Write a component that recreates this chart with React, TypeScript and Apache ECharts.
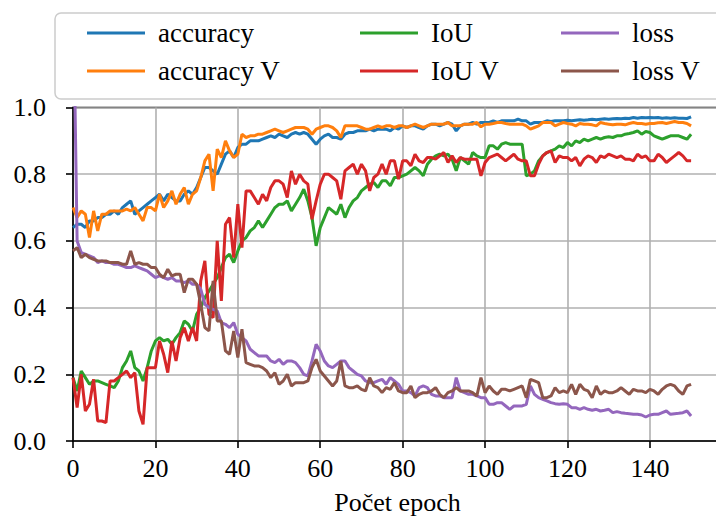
import React, { useEffect, useRef } from "react";
import * as echarts from "echarts";

const accuracy = [
  0.64,0.65,0.65,0.64,0.66,0.66,0.67,0.67,0.68,0.68,
  0.69,0.68,0.70,0.71,0.72,0.68,0.69,0.70,0.71,0.72,
  0.73,0.74,0.72,0.74,0.73,0.72,0.72,0.74,0.75,0.74,
  0.76,0.79,0.82,0.82,0.81,0.80,0.83,0.86,0.87,0.85,
  0.88,0.89,0.89,0.90,0.90,0.90,0.905,0.91,0.915,0.91,
  0.92,0.915,0.91,0.92,0.925,0.92,0.925,0.92,0.905,0.89,
  0.905,0.915,0.92,0.91,0.91,0.905,0.92,0.925,0.925,0.93,
  0.93,0.93,0.935,0.93,0.935,0.935,0.935,0.93,0.94,0.935,
  0.945,0.94,0.945,0.945,0.94,0.935,0.945,0.95,0.95,0.945,
  0.95,0.955,0.95,0.93,0.945,0.95,0.95,0.955,0.95,0.955,
  0.955,0.955,0.96,0.955,0.96,0.96,0.96,0.96,0.965,0.96,
  0.96,0.95,0.955,0.955,0.955,0.96,0.958,0.96,0.96,0.96,
  0.962,0.96,0.962,0.963,0.962,0.963,0.965,0.963,0.965,0.966,
  0.965,0.966,0.967,0.966,0.968,0.967,0.97,0.968,0.97,0.969,
  0.97,0.969,0.97,0.968,0.969,0.968,0.969,0.968,0.968,0.967,
  0.972,
];

const accuracyV = [
  0.70,0.67,0.69,0.68,0.61,0.69,0.63,0.68,0.68,0.69,
  0.69,0.69,0.69,0.695,0.69,0.70,0.68,0.66,0.70,0.70,
  0.69,0.74,0.70,0.72,0.75,0.71,0.74,0.76,0.71,0.74,
  0.75,0.79,0.84,0.86,0.75,0.875,0.85,0.90,0.87,0.85,
  0.86,0.92,0.91,0.915,0.915,0.92,0.92,0.925,0.93,0.935,
  0.93,0.925,0.93,0.935,0.94,0.94,0.94,0.935,0.92,0.935,
  0.94,0.945,0.945,0.94,0.93,0.91,0.945,0.945,0.945,0.945,
  0.94,0.935,0.935,0.94,0.945,0.94,0.945,0.945,0.94,0.945,
  0.945,0.94,0.945,0.95,0.945,0.94,0.945,0.95,0.95,0.95,
  0.95,0.955,0.945,0.945,0.945,0.95,0.95,0.95,0.955,0.942,
  0.95,0.95,0.952,0.955,0.955,0.952,0.95,0.95,0.95,0.95,
  0.945,0.935,0.94,0.945,0.955,0.955,0.955,0.945,0.95,0.955,
  0.952,0.95,0.945,0.952,0.95,0.95,0.948,0.945,0.955,0.952,
  0.95,0.948,0.95,0.95,0.948,0.952,0.955,0.952,0.952,0.95,
  0.952,0.952,0.954,0.955,0.952,0.955,0.958,0.955,0.955,0.952,
  0.945,
];

const iou = [
  0.19,0.15,0.21,0.19,0.17,0.18,0.18,0.175,0.17,0.165,
  0.16,0.18,0.22,0.24,0.27,0.22,0.21,0.18,0.22,0.27,
  0.30,0.31,0.30,0.305,0.29,0.31,0.325,0.36,0.35,0.33,
  0.38,0.40,0.43,0.45,0.47,0.49,0.52,0.55,0.56,0.535,
  0.57,0.60,0.61,0.63,0.64,0.66,0.64,0.66,0.68,0.70,
  0.71,0.71,0.72,0.69,0.71,0.73,0.755,0.72,0.67,0.585,
  0.64,0.67,0.70,0.69,0.68,0.71,0.67,0.70,0.72,0.73,
  0.75,0.76,0.77,0.775,0.76,0.78,0.78,0.765,0.79,0.79,
  0.795,0.80,0.81,0.82,0.81,0.795,0.83,0.845,0.855,0.86,
  0.855,0.86,0.845,0.81,0.85,0.84,0.83,0.865,0.855,0.85,
  0.85,0.885,0.885,0.875,0.89,0.895,0.89,0.89,0.89,0.89,
  0.795,0.80,0.81,0.84,0.855,0.865,0.87,0.875,0.885,0.88,
  0.895,0.885,0.90,0.895,0.905,0.90,0.905,0.91,0.905,0.91,
  0.912,0.91,0.915,0.915,0.92,0.922,0.925,0.93,0.92,0.928,
  0.925,0.915,0.91,0.905,0.91,0.915,0.915,0.915,0.91,0.905,
  0.92,
];

const iouV = [
  0.19,0.10,0.20,0.09,0.11,0.185,0.06,0.06,0.055,0.18,
  0.18,0.19,0.20,0.21,0.19,0.205,0.09,0.05,0.22,0.22,
  0.22,0.30,0.26,0.205,0.30,0.24,0.31,0.34,0.30,0.34,
  0.30,0.48,0.54,0.38,0.37,0.60,0.42,0.65,0.67,0.55,
  0.71,0.58,0.75,0.75,0.73,0.71,0.74,0.72,0.76,0.78,
  0.78,0.77,0.73,0.81,0.77,0.80,0.78,0.77,0.665,0.72,
  0.77,0.80,0.80,0.79,0.78,0.725,0.81,0.82,0.83,0.80,
  0.83,0.81,0.75,0.79,0.80,0.83,0.80,0.84,0.84,0.785,
  0.84,0.84,0.825,0.86,0.84,0.835,0.85,0.85,0.845,0.855,
  0.865,0.835,0.855,0.835,0.85,0.845,0.845,0.845,0.845,0.795,
  0.835,0.85,0.855,0.86,0.85,0.84,0.85,0.86,0.845,0.84,
  0.84,0.795,0.795,0.83,0.855,0.865,0.87,0.835,0.855,0.85,
  0.85,0.84,0.85,0.825,0.845,0.855,0.85,0.835,0.855,0.85,
  0.86,0.855,0.85,0.855,0.845,0.845,0.84,0.86,0.85,0.855,
  0.84,0.84,0.86,0.85,0.835,0.845,0.855,0.865,0.855,0.84,
  0.84,
];

const loss = [
  1.40,0.60,0.565,0.56,0.555,0.55,0.535,0.54,0.535,0.535,
  0.53,0.53,0.525,0.52,0.52,0.525,0.52,0.515,0.51,0.50,
  0.49,0.495,0.49,0.485,0.49,0.48,0.48,0.475,0.48,0.47,
  0.47,0.455,0.41,0.40,0.395,0.39,0.355,0.35,0.34,0.355,
  0.32,0.31,0.30,0.275,0.265,0.255,0.255,0.255,0.24,0.235,
  0.245,0.23,0.24,0.24,0.235,0.22,0.20,0.195,0.24,0.29,
  0.27,0.24,0.225,0.22,0.23,0.24,0.24,0.22,0.21,0.20,
  0.195,0.18,0.175,0.175,0.18,0.185,0.17,0.19,0.18,0.17,
  0.15,0.15,0.145,0.135,0.16,0.165,0.16,0.14,0.135,0.135,
  0.13,0.13,0.13,0.19,0.15,0.145,0.14,0.14,0.135,0.13,
  0.13,0.11,0.11,0.115,0.115,0.105,0.095,0.105,0.105,0.105,
  0.11,0.165,0.14,0.13,0.125,0.12,0.115,0.112,0.11,0.112,
  0.11,0.10,0.10,0.095,0.10,0.095,0.092,0.095,0.09,0.092,
  0.095,0.085,0.088,0.085,0.083,0.082,0.08,0.08,0.078,0.072,
  0.078,0.08,0.08,0.085,0.09,0.08,0.082,0.083,0.085,0.09,
  0.075,
];

const lossV = [
  0.57,0.58,0.55,0.56,0.55,0.545,0.54,0.54,0.54,0.535,
  0.535,0.535,0.53,0.53,0.57,0.53,0.535,0.53,0.53,0.52,
  0.52,0.50,0.49,0.515,0.495,0.50,0.50,0.445,0.485,0.485,
  0.47,0.41,0.34,0.33,0.48,0.36,0.36,0.27,0.26,0.33,
  0.25,0.335,0.235,0.23,0.225,0.225,0.22,0.21,0.19,0.205,
  0.17,0.18,0.20,0.165,0.175,0.175,0.175,0.18,0.22,0.245,
  0.21,0.195,0.18,0.165,0.18,0.24,0.165,0.16,0.16,0.165,
  0.155,0.15,0.19,0.165,0.16,0.145,0.16,0.155,0.175,0.15,
  0.145,0.145,0.165,0.13,0.14,0.145,0.145,0.15,0.16,0.14,
  0.13,0.145,0.15,0.16,0.15,0.15,0.15,0.145,0.135,0.19,
  0.145,0.165,0.15,0.14,0.155,0.155,0.15,0.155,0.16,0.165,
  0.13,0.185,0.18,0.175,0.13,0.13,0.135,0.16,0.145,0.15,
  0.145,0.17,0.14,0.17,0.155,0.15,0.13,0.165,0.14,0.15,
  0.145,0.145,0.15,0.16,0.15,0.14,0.155,0.15,0.15,0.145,
  0.155,0.15,0.14,0.155,0.165,0.17,0.165,0.15,0.14,0.165,
  0.17,
];

const seriesNames = ["accuracy", "accuracy V", "IoU", "IoU V", "loss", "loss V"];
const seriesColors = ["#1f77b4", "#ff7f0e", "#2ca02c", "#d62728", "#9467bd", "#8c564b"];
const seriesData = [accuracy, accuracyV, iou, iouV, loss, lossV];

const xTitle = "Počet epoch";
const FONT = "Liberation Serif";

export default function App() {
  const ref = useRef<HTMLDivElement>(null);
  useEffect(() => {
    if (!ref.current) return;
    const chart = echarts.init(ref.current, undefined, { renderer: "svg" });
    const legendText = {
      fontFamily: FONT,
      fontSize: 27,
      color: "#000",
      lineHeight: 28,
      padding: [0, 0, 0, 8],
    };
    const legendBase = {
      orient: "vertical",
      top: 14,
      icon: "rect",
      itemWidth: 58,
      itemHeight: 3,
      itemGap: 10,
      textStyle: legendText,
      selectedMode: false,
      z: 10,
    };
    chart.setOption({
      animation: false,
      backgroundColor: "#fff",
      textStyle: { fontFamily: FONT },
      grid: {
        left: 73,
        top: 107.5,
        bottom: 78,
        right: -6,
        show: true,
        borderColor: "#000",
        borderWidth: 1.6,
        containLabel: false,
        outerBoundsMode: "none",
      },
      legend: [
        { ...legendBase, left: 82, data: [seriesNames[0], seriesNames[1]] },
        { ...legendBase, left: 355, data: [seriesNames[2], seriesNames[3]] },
        { ...legendBase, left: 556, data: [seriesNames[4], seriesNames[5]] },
      ],
      graphic: [
        {
          type: "rect",
          z: 9,
          shape: { x: 55, y: 13, width: 680, height: 86, r: 6 },
          style: { fill: "rgba(255,255,255,0.85)", stroke: "#cccccc", lineWidth: 1.5 },
        },
      ],
      xAxis: {
        type: "value",
        min: 0,
        max: 157.5,
        interval: 20,
        name: xTitle,
        nameLocation: "middle",
        nameGap: 47,
        nameTextStyle: { fontFamily: FONT, fontSize: 26, color: "#000", lineHeight: 28 },
        axisLine: { show: true, onZero: false, lineStyle: { color: "#000", width: 1.6 } },
        axisTick: { show: true, length: 7, lineStyle: { color: "#000", width: 1.6 } },
        axisLabel: {
          fontFamily: FONT,
          fontSize: 26,
          color: "#000",
          margin: 14,
          showMaxLabel: false,
        },
        splitLine: { show: true, lineStyle: { color: "#b0b0b0", width: 1.6 } },
      },
      yAxis: {
        type: "value",
        min: 0,
        max: 1,
        interval: 0.2,
        axisLine: { show: true, lineStyle: { color: "#000", width: 1.6 } },
        axisTick: { show: true, length: 7, lineStyle: { color: "#000", width: 1.6 } },
        axisLabel: {
          fontFamily: FONT,
          fontSize: 26,
          color: "#000",
          margin: 27,
          formatter: (v: number) => v.toFixed(1),
        },
        splitLine: { show: true, lineStyle: { color: "#b0b0b0", width: 1.6 } },
      },
      series: seriesNames.map((name, i) => ({
        name,
        type: "line",
        data: seriesData[i].map((v, e) => [e, v]),
        showSymbol: false,
        symbol: "none",
        clip: true,
        z: 2 + i,
        color: seriesColors[i],
        lineStyle: { color: seriesColors[i], width: 3 },
      })),
    });
    return () => chart.dispose();
  }, []);
  return (
    <div
      ref={ref}
      style={{ position: "fixed", left: 0, top: 0, width: 716, height: 519, background: "#fff" }}
    />
  );
}
